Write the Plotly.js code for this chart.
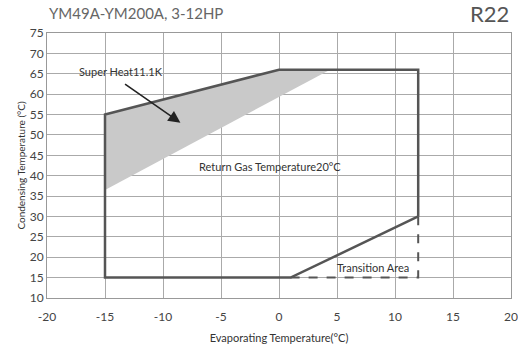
<!DOCTYPE html>
<html>
<head>
<meta charset="utf-8">
<script src="https://cdn.plot.ly/plotly-3.0.1.min.js"></script>
<style>html,body{margin:0;padding:0;background:#fff;}#chart{width:518px;height:347px;}</style>
</head>
<body>
<div id="chart"></div>
<script>
// Envelope (solid boundary), closed path
const envX = [12, 1, -15, -15, 0, 12, 12];
const envY = [30, 15, 15, 55, 66, 66, 30];
// Transition area dashed boundary
const dashX = [1, 12, 12];
const dashY = [15, 15, 30];
// Super heat shaded region
const shadeX = [-15, -15, 0, 4.4];
const shadeY = [36.5, 55, 66, 66];
const xTicks = [-20, -15, -10, -5, 0, 5, 10, 15, 20];
const xTickText = ['-20', '-15', '-10', '-5', '0', '5', '10', '15', '20'];
const yTicks = [10, 15, 20, 25, 30, 35, 40, 45, 50, 55, 60, 65, 70, 75];

const FONT = 'Lato, "Open Sans", sans-serif';
const traces = [
  {x: shadeX, y: shadeY, type: 'scatter', mode: 'lines', fill: 'toself',
   fillcolor: '#c9c9c9', line: {width: 0}, hoverinfo: 'skip'},
  {x: envX, y: envY, type: 'scatter', mode: 'lines',
   line: {color: '#555', width: 2.5}, hoverinfo: 'skip'},
  {x: dashX, y: dashY, type: 'scatter', mode: 'lines',
   line: {color: '#555', width: 2, dash: 'dash'}, hoverinfo: 'skip'}
];
const layout = {
  width: 518, height: 347,
  margin: {l: 47, r: 7, t: 33, b: 49},
  showlegend: false,
  paper_bgcolor: '#fff', plot_bgcolor: '#fff',
  font: {family: FONT, color: '#444', size: 12},
  xaxis: {range: [-20, 20], tickvals: xTicks, ticktext: xTickText, showgrid: true, gridcolor: '#aaa', gridwidth: 1,
    zeroline: false, showline: true, mirror: true, linecolor: '#999', linewidth: 1,
    ticks: '', ticklabelstandoff: 8, tickfont: {size: 12, color: '#444'},
    title: {text: 'Evaporating Temperature(°C)', font: {size: 11, color: '#333'}, standoff: 10}},
  yaxis: {range: [10, 75], tickvals: yTicks, showgrid: true, gridcolor: '#aaa', gridwidth: 1,
    zeroline: false, showline: true, mirror: true, linecolor: '#999', linewidth: 1,
    ticks: '', tickfont: {size: 12, color: '#444'},
    title: {text: 'Condensing Temperature (°C)', font: {size: 10, color: '#333'}, standoff: 2}},
  annotations: [
    {xref: 'paper', yref: 'paper', x: 0, y: 1, yshift: 20, xanchor: 'left', yanchor: 'middle',
     text: 'YM49A-YM200A, 3-12HP', showarrow: false, font: {size: 15, color: '#666', family: FONT}},
    {xref: 'paper', yref: 'paper', x: 1, y: 1, yshift: 20, xanchor: 'right', yanchor: 'middle',
     text: 'R22', showarrow: false, font: {size: 22, color: '#555', family: FONT}},
    {xref: 'x', yref: 'y', x: -8.5, y: 53, axref: 'x', ayref: 'y', ax: -13.4, ay: 62.7,
     text: '', showarrow: true, arrowhead: 2, arrowsize: 1.5, arrowwidth: 1.6, arrowcolor: '#222'},
    {xref: 'x', yref: 'y', x: -13.6, y: 65.5, text: 'Super Heat11.1K', showarrow: false,
     font: {size: 11, color: '#333'}},
    {xref: 'x', yref: 'y', x: -0.8, y: 42.2, text: 'Return Gas Temperature20°C', showarrow: false,
     font: {size: 11, color: '#333'}},
    {xref: 'x', yref: 'y', x: 8.1, y: 17.6, text: 'Transition Area', showarrow: false,
     font: {size: 11, color: '#333'}}
  ]
};
Plotly.newPlot('chart', traces, layout, {displayModeBar: false, staticPlot: true});
</script>
</body>
</html>
